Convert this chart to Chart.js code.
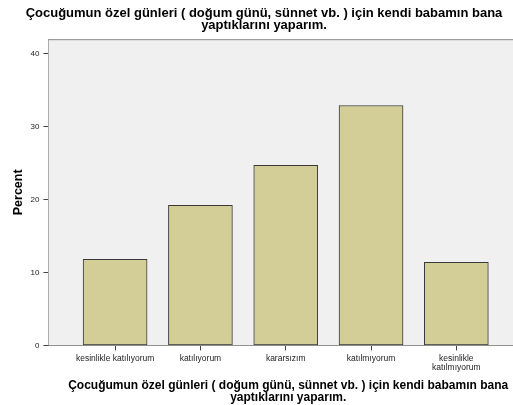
<!DOCTYPE html>
<html>
<head>
<meta charset="utf-8">
<script src="https://cdn.jsdelivr.net/npm/chart.js@4/dist/chart.umd.min.js"></script>
<style>
  html, body { margin: 0; padding: 0; background: #fff; overflow: hidden; }
  #wrap { width: 513px; height: 405px; overflow: hidden; }
</style>
</head>
<body>
<div id="wrap"><canvas id="barChart" width="532" height="405"></canvas></div>
<script>
// chart data
const CATEGORIES = [
  'kesinlikle katılıyorum',
  'katılıyorum',
  'kararsızım',
  'katılmıyorum',
  ['kesinlikle', 'katılmıyorum'],
];
const PERCENTS = [11.8, 19.2, 24.7, 32.9, 11.4];
const Y_TICKS = [0, 10, 20, 30, 40];
const TITLE_LINES = [
  'Çocuğumun özel günleri ( doğum günü, sünnet vb. ) için kendi babamın bana',
  'yaptıklarını yaparım.',
];

Chart.defaults.font.family = "'Liberation Sans', Arial, sans-serif";

// grey plot background + thin top frame line
const plotFrame = {
  id: 'plotFrame',
  beforeDatasetsDraw(chart) {
    const { ctx, chartArea: a } = chart;
    ctx.save();
    ctx.fillStyle = '#f0f0f0';
    ctx.fillRect(a.left, a.top, a.right - a.left, a.bottom - a.top);
    ctx.strokeStyle = '#8a8a8a';
    ctx.lineWidth = 1;
    ctx.beginPath();
    ctx.moveTo(a.left, a.top + 0.5);
    ctx.lineTo(a.right, a.top + 0.5);
    ctx.stroke();
    ctx.restore();
  },
};

new Chart(document.getElementById('barChart').getContext('2d'), {
  type: 'bar',
  data: {
    datasets: [{
      data: PERCENTS.map((v, i) => ({ x: i + 1, y: v })),
      backgroundColor: '#d3ce98',
      borderColor: '#3a3a3a',
      borderWidth: 1,
      borderSkipped: false,
      barThickness: 64,
    }],
  },
  options: {
    responsive: false,
    animation: false,
    layout: { padding: { left: 0, right: 4, top: 0, bottom: 0 } },
    plugins: {
      legend: { display: false },
      tooltip: { enabled: false },
      title: {
        display: true,
        text: TITLE_LINES,
        color: '#000',
        font: { size: 13, weight: 'bold', lineHeight: 0.93 },
        padding: { top: 7, bottom: 8 },
      },
    },
    scales: {
      x: {
        type: 'linear',
        offset: false,
        min: 0.218,
        max: 5.84,
        afterBuildTicks: axis => { axis.ticks = CATEGORIES.map((_, i) => ({ value: i + 1 })); },
        ticks: {
          autoSkip: false,
          maxRotation: 0,
          padding: 3,
          color: '#222',
          font: { size: 8.5, lineHeight: 1.15 },
          callback: v => CATEGORIES[v - 1],
        },
        grid: { offset: false, drawOnChartArea: false, drawTicks: true, tickLength: 5, color: '#444', tickColor: '#444' },
        border: { display: true, color: '#444' },
        title: {
          display: true,
          text: TITLE_LINES,
          color: '#000',
          font: { size: 12, weight: 'bold', lineHeight: 1 },
          padding: { top: 4, bottom: 1 },
        },
      },
      y: {
        min: 0,
        max: 42,
        afterBuildTicks: axis => { axis.ticks = Y_TICKS.map(v => ({ value: v })); },
        ticks: {
          padding: 4,
          color: '#222',
          font: { size: 8 },
        },
        grid: { drawOnChartArea: false, drawTicks: true, tickLength: 5, color: '#444', tickColor: '#444' },
        border: { display: true, color: '#444' },
        title: {
          display: true,
          text: 'Percent',
          color: '#000',
          font: { size: 12.5, weight: 'bold', lineHeight: 1 },
          padding: { top: 12, bottom: 2 },
        },
      },
    },
  },
  plugins: [plotFrame],
});
</script>
</body>
</html>
